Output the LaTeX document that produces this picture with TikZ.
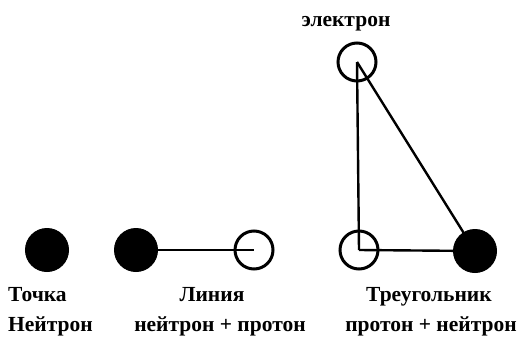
\documentclass[tikz,border=0pt]{standalone}
\usepackage{fontspec}
\setmainfont{Liberation Serif}
\usetikzlibrary{positioning}

\begin{document}
\begin{tikzpicture}[
  x=1pt, y=-1pt,
  full/.style={circle, fill=black, draw=black, line width=1pt, minimum size=43pt, inner sep=0pt},
  hollow/.style={circle, draw=black, line width=3pt, minimum size=38pt, inner sep=0pt},
  lbl/.style={inner sep=0pt, font=\fontsize{21.5}{24}\selectfont\bfseries},
  every path/.style={line width=2.4pt},
]
\useasboundingbox (0,0) rectangle (518,337);

  % Particles
  \node[full]   (dotA)  at (47,250)  {};
  \node[full]   (dotB)  at (136,250) {};
  \node[hollow] (ringP) at (254,250) {};
  \node[hollow] (ringE) at (357,62)  {};
  \node[hollow] (ringQ) at (359,250) {};
  \node[full]   (dotN)  at (475,251) {};

  % Edges
  \draw (dotB.center) -- (ringP.center);
  \draw (ringE.center) -- (ringQ.center);
  \draw (ringQ.center) -- (dotN.center);
  \draw (ringE.center) -- (dotN.center);

  % Labels
  \node[lbl, anchor=base west] (tochka)   at (7,301)   {Точка};
  \node[lbl, anchor=base west] (neitron)  at (7,331)   {Нейтрон};
  \node[lbl, anchor=base]      (liniya)   at (212,301) {Линия};
  \node[lbl, anchor=base]      (np)       at (220,331) {нейтрон + протон};
  \node[lbl, anchor=base]      (treug)    at (429,301) {Треугольник};
  \node[lbl, anchor=base]      (pn)       at (431,331) {протон + нейтрон};
  \node[lbl, anchor=base]      (elektron) at (346,27)  {электрон};
\end{tikzpicture}
\end{document}
